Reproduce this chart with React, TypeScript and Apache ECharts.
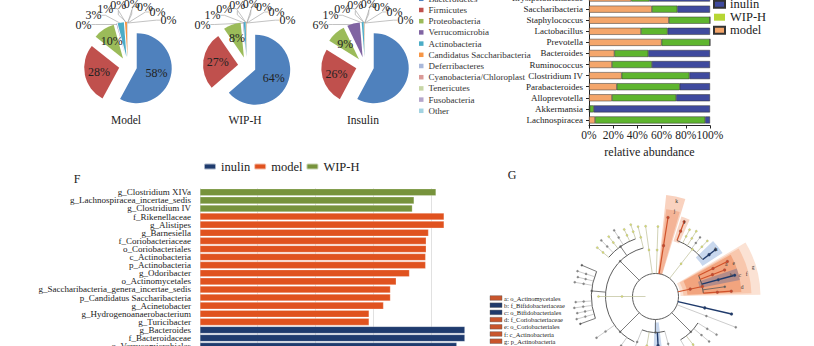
import React, { useEffect, useRef } from "react";
import * as echarts from "echarts";

const FONT = "Liberation Serif";

// ---------- Phylum composition (pies) ----------
const phyla = [
  "Bacteroidetes",
  "Firmicutes",
  "Proteobacteria",
  "Verrucomicrobia",
  "Actinobacteria",
  "Candidatus Saccharibacteria",
  "Deferribacteres",
  "Cyanobacteria/Chloroplast",
  "Tenericutes",
  "Fusobacteria",
  "Other",
];
const modelPhyla = [57.9, 27.8, 10.0, 0.2, 2.9, 0.9, 0.1, 0.05, 0.05, 0.02, 0.08];
const wipPhyla = [63.6, 26.8, 8.1, 0.2, 0.9, 0.2, 0.05, 0.05, 0.05, 0.02, 0.03];
const insulinPhyla = [57.8, 26.1, 8.9, 5.9, 0.9, 0.2, 0.05, 0.05, 0.05, 0.02, 0.03];
const pieGroups = ["Model", "WIP-H", "Insulin"];

// ---------- Genus relative abundance (stacked %) ----------
const genera = [
  "Erysipelotrichaceae",
  "Saccharibacteria",
  "Staphylococcus",
  "Lactobacillus",
  "Prevotella",
  "Bacteroides",
  "Ruminococcus",
  "Clostridium IV",
  "Parabacteroides",
  "Alloprevotella",
  "Akkermansia",
  "Lachnospiracea",
];
const genusModel = [35, 52, 66, 43, 60, 21, 19, 27, 23, 19, 0.5, 5];
const genusWIP = [15, 21, 34, 22, 40, 28, 33, 56, 52, 53, 3.5, 91];
const genusInulin = [50, 27, 0, 35, 0, 51, 48, 17, 25, 28, 96, 4];

// ---------- LEfSe LDA scores ----------
const lefseFeatures = [
  "g_Clostridium XIVa",
  "g_Lachnospiracea_incertae_sedis",
  "g_Clostridium IV",
  "f_Rikenellaceae",
  "g_Alistipes",
  "g_Barnesiella",
  "f_Coriobacteriaceae",
  "o_Coriobacteriales",
  "c_Actinobacteria",
  "p_Actinobacteria",
  "g_Odoribacter",
  "o_Actinomycetales",
  "g_Saccharibacteria_genera_incertae_sedis",
  "p_Candidatus Saccharibacteria",
  "g_Acinetobacter",
  "g_Hydrogenoanaerobacterium",
  "g_Turicibacter",
  "g_Bacteroides",
  "f_Bacteroidaceae",
  "o_Verrucomicrobiales",
];
const lefseLDA = [4.09, 3.71, 3.68, 4.23, 4.23, 3.96, 3.92, 3.92, 3.91, 3.91, 3.63, 3.4, 3.3, 3.3, 3.18, 2.93, 2.93, 4.59, 4.59, 4.45];
const lefseGroup = [
  "WIP-H", "WIP-H", "WIP-H",
  "model", "model", "model", "model", "model", "model", "model", "model",
  "model", "model", "model", "model", "model", "model",
  "inulin", "inulin", "inulin",
];
const lefseLegendOrder = ["inulin", "model", "WIP-H"];

// ---------- Cladogram legend ----------
const cladeLabels = [
  "a: o_Actinomycetales",
  "b: f_Bifidobacteriaceae",
  "c: o_Bifidobacteriales",
  "d: f_Coriobacteriaceae",
  "e: o_Coriobacteriales",
  "f: c_Actinobacteria",
  "g: p_Actinobacteria",
];
const cladeLabelGroup = ["model", "inulin", "inulin", "model", "model", "model", "model"];

// ---------- styles ----------
const phylumColors = [
  "#4F81BD", "#C0504D", "#9BBB59", "#8064A2", "#4BACC6", "#F79646",
  "#A9B8DA", "#DA9A97", "#C7D6A6", "#B5A6CB", "#A3D3E1",
];
const genusColors: Record<string, string> = { model: "#F4A66B", "WIP-H": "#5EB52E", inulin: "#3F4A9E" };
const lefseColors: Record<string, string> = { inulin: "#1F3B6E", model: "#E0521F", "WIP-H": "#77933C" };
const cladeColors: Record<string, string> = { model: "#C9552C", inulin: "#1F3A6B" };

// cladogram drawing (decorative tree geometry: angle in degrees, radii in px)
const CC = [655.5, 296.5];
const cladeSectors: [number, number, number, number, string][] = [
  [-84, -73, 23, 102, "#F9D2BF"],
  [-83, -74, 23, 88, "#F4B497"],
  [-72, -66, 58, 84, "#F8D6C6"],
  [-44, -33, 56, 80, "#C9D8EE"],
  [-31, -1, 25, 105, "#FBE2D4"],
  [-30, -2, 28, 96, "#F8C7AD"],
  [-29, -3, 32, 86, "#F2A47E"],
  [-19, -11, 45, 86, "rgba(105,110,150,0.45)"],
  [83, 92, 26, 62, "#C9D8EE"],
];
const cladeArcs: [number, number, number][] = [
  [23, 0, 360],
  [60, -69, -38],
  [48, -26, -4],
  [50, 32, 60],
  [36, 75, 112],
  [50, 115, 256],
  [64, 160, 203],
  [61, 220, 251],
];
const cladeBranches: [number, number, number, string][] = [
  [180, 10, 57, "o"],
  [-98, 23, 71, "o"],
  [-88, 23, 70, "o"],
  [-81, 23, 80, "r"],
  [-52, 23, 60, "o"],
  [-69, 60, 80, "r"],
  [-63, 60, 75, "o"],
  [-58, 60, 77, "o"],
  [-53, 60, 74, "g"],
  [-47, 60, 76, "o"],
  [-38, 60, 76, "n"],
  [-12, 23, 48, "r"],
  [-26, 48, 80, "r"],
  [-21, 48, 74, "r"],
  [-15, 48, 82, "n"],
  [-8, 48, 70, "k"],
  [-4, 48, 76, "r"],
  [13, 23, 78, "n"],
  [21, 23, 86, "g"],
  [45, 23, 50, "k"],
  [32, 50, 72, "g"],
  [40, 50, 70, "g"],
  [52, 50, 72, "o"],
  [60, 50, 68, "g"],
  [90, 23, 36, "k"],
  [75, 36, 62, "g"],
  [87, 36, 62, "n"],
  [100, 36, 64, "o"],
  [112, 36, 62, "g"],
  [135, 23, 50, "k"],
  [125, 50, 70, "g"],
  [145, 50, 72, "g"],
  [185, 50, 64, "k"],
  [160, 64, 80, "k"],
  [164, 64, 82, "g"],
  [168, 64, 80, "g"],
  [172, 64, 82, "g"],
  [176, 64, 80, "g"],
  [190, 64, 82, "g"],
  [194, 64, 80, "g"],
  [198, 64, 82, "g"],
  [203, 64, 80, "k"],
  [225, 23, 50, "k"],
  [235, 50, 61, "k"],
  [220, 61, 76, "o"],
  [226, 61, 78, "g"],
  [232, 61, 76, "o"],
  [238, 61, 78, "g"],
  [245, 61, 74, "o"],
  [251, 61, 76, "o"],
  [256, 50, 72, "o"],
];
const cladeLetters: [string, number, number][] = [
  ["k", -77.5, 98], ["j", -77.5, 88], ["i", -69, 80], ["h", -38, 77],
  ["a", -25, 78], ["e", -23, 85], ["b", -16, 79], ["c", -14, 87],
  ["f", -14, 94], ["g", -17, 102], ["d", -6, 87],
];
const toneStyle: Record<string, { stroke: string; node: string; w: number }> = {
  o: { stroke: "#BDBE96", node: "#D9DE72", w: 0.7 },
  g: { stroke: "#AAAAAA", node: "#888888", w: 0.6 },
  k: { stroke: "#5A5A5A", node: "#5A5A5A", w: 0.8 },
  r: { stroke: "#D0522A", node: "#C9482A", w: 1.2 },
  n: { stroke: "#1F3A6B", node: "#1F3A6B", w: 1.4 },
};

const rad = (d: number) => (d * Math.PI) / 180;
const pt = (r: number, d: number) => [CC[0] + r * Math.cos(rad(d)), CC[1] + r * Math.sin(rad(d))];

function buildCladogram(): any[] {
  const els: any[] = [];
  cladeSectors.forEach(([a0, a1, r0, r1, fill]) => {
    els.push({
      type: "sector",
      shape: { cx: CC[0], cy: CC[1], r0, r: r1, startAngle: rad(a0), endAngle: rad(a1) },
      style: { fill },
      z: 1,
    });
  });
  cladeArcs.forEach(([r, a0, a1]) => {
    els.push({
      type: "arc",
      shape: { cx: CC[0], cy: CC[1], r, startAngle: rad(a0), endAngle: rad(a1) },
      style: { stroke: "#4A4A4A", lineWidth: 0.9, fill: null },
      z: 2,
    });
  });
  cladeBranches.forEach(([a, r0, r1, tone]) => {
    const s = toneStyle[tone];
    const p0 = pt(r0, a);
    const p1 = pt(r1, a);
    els.push({
      type: "line",
      shape: { x1: p0[0], y1: p0[1], x2: p1[0], y2: p1[1] },
      style: { stroke: s.stroke, lineWidth: s.w },
      z: 3,
    });
    const nodeRs = tone === "k" ? [r1] : [r1, (r0 + r1) / 2];
    nodeRs.forEach((nr) => {
      const c = pt(nr, a);
      els.push({
        type: "circle",
        shape: { cx: c[0], cy: c[1], r: tone === "n" || tone === "r" ? 1.5 : 1.1 },
        style: { fill: s.node, stroke: "#777", lineWidth: 0.2 },
        z: 4,
      });
    });
  });
  cladeLetters.forEach(([t, a, r]) => {
    const c = pt(r, a);
    els.push({
      type: "text",
      x: c[0],
      y: c[1],
      style: {
        text: t, fill: "#333", fontSize: 5.5, fontFamily: FONT,
        align: "center", verticalAlign: "middle",
      },
      z: 5,
    });
  });
  // legend of the cladogram
  cladeLabels.forEach((lab, i) => {
    const y = 298 + i * 7.2;
    els.push({
      type: "rect",
      shape: { x: 490, y: y - 2.3, width: 12, height: 4.6 },
      style: { fill: cladeColors[cladeLabelGroup[i]], stroke: "#555", lineWidth: 0.4 },
      z: 5,
    });
    els.push({
      type: "text",
      x: 504,
      y,
      style: {
        text: lab, fill: "#222", fontSize: 6.5, fontFamily: FONT,
        align: "left", verticalAlign: "middle",
      },
      z: 5,
    });
  });
  return els;
}

function textEl(text: string, x: number, y: number, size: number) {
  return {
    type: "text",
    x,
    y,
    style: {
      text, fill: "#222", fontSize: size, fontFamily: FONT,
      align: "center", verticalAlign: "middle",
    },
    z: 10,
  };
}

const pieCenters = [128, 247, 365];
const PIE_CY = 66;
const pctLabel = (p: any) => Math.round(p.percent) + "%";

// visible exploded pie with the in-slice percentages
function makePie(idx: number, values: number[]) {
  const cx = pieCenters[idx];
  return {
    type: "pie",
    name: pieGroups[idx],
    center: [cx, PIE_CY],
    radius: 35,
    startAngle: 90,
    clockwise: true,
    selectedMode: "multiple",
    selectedOffset: 9,
    avoidLabelOverlap: false,
    emphasis: { scale: false },
    label: { fontFamily: FONT, fontSize: 12, color: "#222", formatter: pctLabel, position: "inside" },
    labelLine: { show: false },
    data: phyla.map((name, i) => ({
      name,
      value: values[i],
      selected: true,
      itemStyle: { color: phylumColors[i] },
      label: { show: i < 3 && !(idx === 2 && i === 0) },
    })),
  };
}

// transparent twin pie carrying the Excel-style callouts of the small slices
function makeCalloutPie(idx: number, values: number[]) {
  const cx = pieCenters[idx];
  return {
    type: "pie",
    name: pieGroups[idx] + " callouts",
    center: [cx, PIE_CY],
    radius: 43,
    startAngle: 90,
    clockwise: true,
    silent: true,
    avoidLabelOverlap: false,
    emphasis: { disabled: true },
    itemStyle: { color: "rgba(0,0,0,0)" },
    labelLayout: (p: any) => {
      if (p.dataIndex < 3) return {};
      const k = p.dataIndex - 3;
      const th = rad(-138 + k * 12.9);
      return {
        x: cx + 60 * Math.cos(th),
        y: PIE_CY + 62 * Math.sin(th),
        align: "center",
        verticalAlign: "middle",
      };
    },
    label: { fontFamily: FONT, fontSize: 12, color: "#222", formatter: pctLabel, position: "outside" },
    labelLine: { show: true, length: 6, length2: 4, lineStyle: { color: "#A8A8A8", width: 0.7 } },
    data: phyla.map((name, i) => ({
      name,
      value: values[i],
      label: { show: i >= 3 },
      labelLine: { show: i >= 3 },
    })),
  };
}

export default function App() {
  const ref = useRef<HTMLDivElement>(null);

  useEffect(() => {
    document.body.style.margin = "0";
    if (!ref.current) return;
    const chart = echarts.init(ref.current, undefined, { renderer: "svg" });

    const genusSeries = [
      { key: "model", data: genusModel },
      { key: "WIP-H", data: genusWIP },
      { key: "inulin", data: genusInulin },
    ].map((s) => ({
      type: "bar",
      name: s.key,
      stack: "abund",
      xAxisIndex: 0,
      yAxisIndex: 0,
      barWidth: 7,
      data: s.data,
      itemStyle: { color: genusColors[s.key], borderColor: "#333", borderWidth: 0.5 },
      emphasis: { disabled: true },
    }));

    const lefseSeries = lefseLegendOrder.map((g) => ({
      type: "bar",
      name: "F:" + g,
      xAxisIndex: 1,
      yAxisIndex: 1,
      barWidth: 7,
      barGap: "-100%",
      data: lefseLDA.map((v, i) => (lefseGroup[i] === g ? v : "-")),
      itemStyle: { color: lefseColors[g], borderColor: "rgba(255,255,255,0.6)", borderWidth: 0.4 },
      emphasis: { disabled: true },
    }));

    const option: any = {
      animation: false,
      textStyle: { fontFamily: FONT },
      legend: [
        {
          data: phyla,
          orient: "vertical",
          left: 419,
          top: -6.8,
          padding: 0,
          icon: "rect",
          itemWidth: 4.5,
          itemHeight: 4.5,
          itemGap: 0,
          selectedMode: false,
          textStyle: { fontFamily: FONT, fontSize: 9, lineHeight: 11.2, color: "#333" },
        },
        {
          data: ["inulin", "WIP-H", "model"],
          orient: "vertical",
          left: 713,
          top: -2.3,
          padding: 0,
          icon: "rect",
          itemWidth: 11,
          itemHeight: 7,
          itemGap: 0,
          selectedMode: false,
          textStyle: { fontFamily: FONT, fontSize: 12.5, lineHeight: 10.5, color: "#222" },
        },
        {
          data: lefseLegendOrder.map((g) => "F:" + g),
          formatter: (n: string) => n.slice(2),
          orient: "horizontal",
          left: 203,
          top: 160,
          padding: 0,
          icon: "roundRect",
          itemWidth: 12,
          itemHeight: 6,
          itemGap: 3,
          selectedMode: false,
          textStyle: { fontFamily: FONT, fontSize: 12.5, color: "#222" },
        },
      ],
      grid: [
        { left: 589, right: 104, top: -7.5, bottom: 220.5, containLabel: false, outerBoundsMode: "none" },
        { left: 200, right: 325.5, top: 188.2, bottom: -4.2, containLabel: false, outerBoundsMode: "none" },
      ],
      xAxis: [
        {
          gridIndex: 0,
          type: "value",
          min: 0,
          max: 100,
          interval: 20,
          axisLine: { show: true, lineStyle: { color: "#222", width: 1 } },
          axisTick: { show: true, length: 3, lineStyle: { color: "#222" } },
          splitLine: { show: false },
          axisLabel: {
            formatter: "{value}%", fontSize: 11.5, color: "#222", margin: 3, fontFamily: FONT,
            showMinLabel: true, showMaxLabel: true, hideOverlap: false,
          },
          name: "relative abundance",
          nameLocation: "middle",
          nameGap: 20,
          nameTextStyle: { fontSize: 12, color: "#222", fontFamily: FONT },
        },
        {
          gridIndex: 1,
          type: "value",
          min: 0,
          max: 5,
          interval: 1,
          axisLine: { show: false },
          axisTick: { show: false },
          splitLine: { show: true, showMaxLine: false, lineStyle: { color: "#D9D9D9", width: 0.8 } },
          axisLabel: { show: true, fontSize: 9, color: "#222" },
        },
      ],
      yAxis: [
        {
          gridIndex: 0,
          type: "category",
          data: genera,
          inverse: true,
          axisLine: { show: true, lineStyle: { color: "#222", width: 1 } },
          axisTick: { show: true, length: 3, alignWithLabel: true, lineStyle: { color: "#222" } },
          axisLabel: { interval: 0, fontSize: 9, color: "#222", margin: 6, fontFamily: FONT },
        },
        {
          gridIndex: 1,
          type: "category",
          data: lefseFeatures,
          inverse: true,
          axisLine: { show: false },
          axisTick: { show: false },
          axisLabel: { interval: 0, fontSize: 9, color: "#222", margin: 9, fontFamily: FONT },
        },
      ],
      series: [
        makePie(0, modelPhyla),
        makePie(1, wipPhyla),
        makePie(2, insulinPhyla),
        makeCalloutPie(0, modelPhyla),
        makeCalloutPie(1, wipPhyla),
        makeCalloutPie(2, insulinPhyla),
        ...genusSeries,
        ...lefseSeries,
      ],
      graphic: {
        elements: [
          textEl(pieGroups[0], 126, 120, 11.5),
          textEl(pieGroups[1], 245, 120, 11.5),
          textEl(pieGroups[2], 363, 120, 11.5),
          textEl("F", 77, 179, 12),
          textEl("G", 512, 175, 12),
          ...buildCladogram(),
        ],
      },
    };

    chart.setOption(option);
    return () => chart.dispose();
  }, []);

  return <div ref={ref} style={{ width: 814, height: 346 }} />;
}
